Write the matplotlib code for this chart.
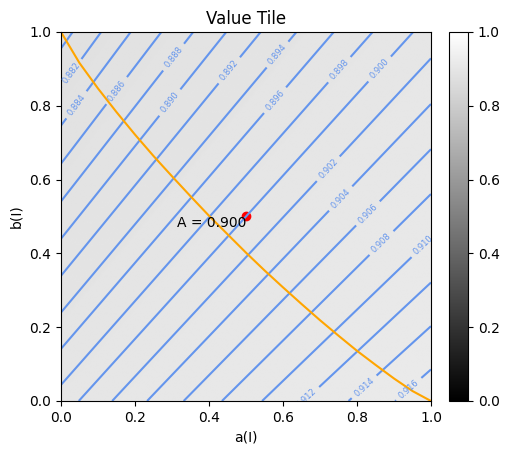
import numpy as np
import matplotlib
matplotlib.use('Agg')
import matplotlib.pyplot as plt

# value field A(a, b) = (n0 + n1*a + n2*b) / (d0 + d1*a + d2*b), coefficients
num_coef = [0.8989, 0.2461, 0.0207]
den_coef = [1.0, 0.248, 0.046]
levels = [0.880, 0.882, 0.884, 0.886, 0.888, 0.890, 0.892, 0.894, 0.896, 0.898,
          0.900, 0.902, 0.904, 0.906, 0.908, 0.910, 0.912, 0.914, 0.916]

# orange curve
curve_a = [0.0, 0.05, 0.1, 0.15, 0.2, 0.25, 0.3, 0.35, 0.4, 0.45, 0.5,
           0.55, 0.6, 0.65, 0.7, 0.75, 0.8, 0.85, 0.9, 0.95, 1.0]
curve_b = [1.0, 0.916, 0.847, 0.783, 0.722, 0.664, 0.609, 0.555, 0.502, 0.452, 0.402,
           0.354, 0.308, 0.263, 0.219, 0.177, 0.136, 0.098, 0.061, 0.027, 0.0]

point_a = 0.5
point_b = 0.5
point_label = 'A = 0.900'

a = np.linspace(0, 1, 300)
b = np.linspace(0, 1, 300)
A, B = np.meshgrid(a, b)
Z = (num_coef[0] + num_coef[1]*A + num_coef[2]*B) / (den_coef[0] + den_coef[1]*A + den_coef[2]*B)

fig = plt.figure(figsize=(5.09, 4.55), dpi=100)
ax = fig.add_axes([0.1198, 0.1187, 0.7269, 0.811])
cax = fig.add_axes([0.8821, 0.1187, 0.0373, 0.811])

im = ax.imshow(Z, origin='lower', extent=[0, 1, 0, 1], cmap='gray', vmin=0, vmax=1, aspect='auto')
cs = ax.contour(A, B, Z, levels=levels, colors='cornflowerblue')
ax.clabel(cs, fmt='%.3f', fontsize=6)

ax.plot(curve_a, curve_b, color='orange')
ax.scatter([point_a], [point_b], color='red')
ax.text(point_a, point_b, point_label, ha='right', va='top', fontsize=10)

ax.set_xlim(0, 1)
ax.set_ylim(0, 1)
ax.set_title('Value Tile')
ax.set_xlabel('a(I)')
ax.set_ylabel('b(I)')

fig.colorbar(im, cax=cax)

fig.savefig('out.png', dpi=100)
